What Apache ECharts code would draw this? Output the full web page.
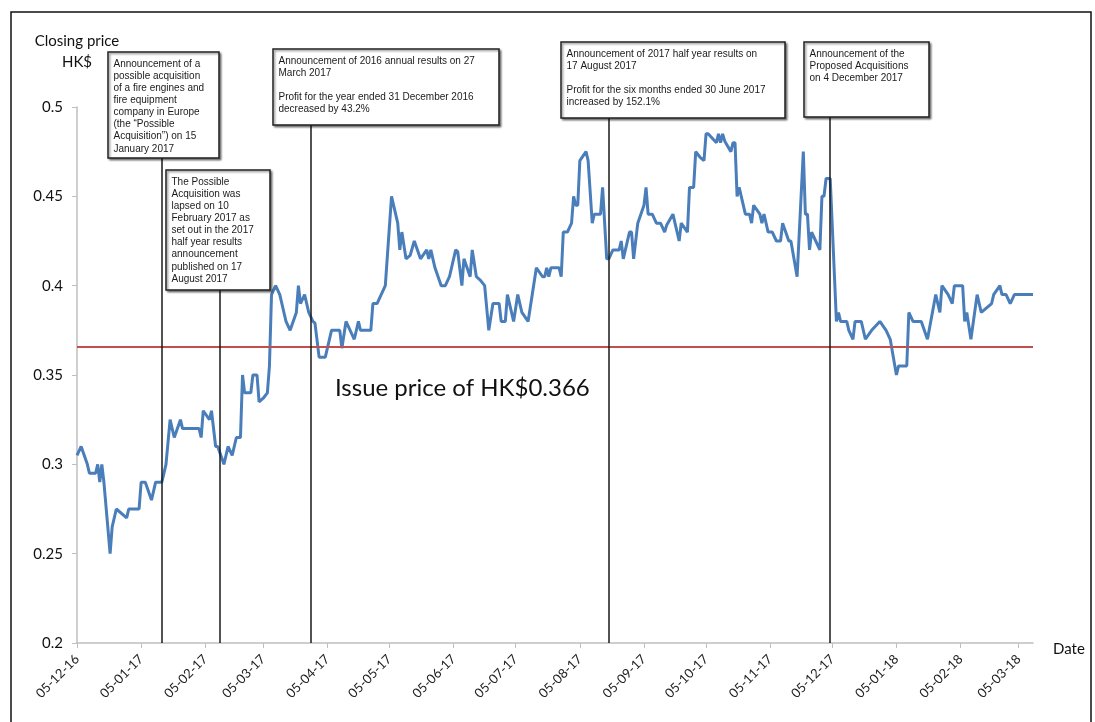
<!DOCTYPE html>
<html>
<head>
<meta charset="utf-8">
<title>Closing price</title>
<script src="https://cdn.jsdelivr.net/npm/echarts@6/dist/echarts.min.js"></script>
<style>
  html, body { margin: 0; padding: 0; background: #fff; }
  #chart { width: 1095px; height: 722px; }
</style>
</head>
<body>
<div id="chart"></div>
<script>
// closing price readings (HK$)
const dates = [
  '2016-12-05','2016-12-07','2016-12-10','2016-12-11','2016-12-14','2016-12-15','2016-12-16','2016-12-17','2016-12-18','2016-12-21',
  '2016-12-22','2016-12-24','2016-12-29','2016-12-30','2017-01-04','2017-01-05','2017-01-07','2017-01-10','2017-01-12','2017-01-15',
  '2017-01-17','2017-01-19','2017-01-21','2017-01-24','2017-01-25','2017-02-02','2017-02-03','2017-02-04','2017-02-07','2017-02-08',
  '2017-02-10','2017-02-11','2017-02-14','2017-02-16','2017-02-18','2017-02-20','2017-02-22','2017-02-23','2017-02-24','2017-02-27',
  '2017-02-28','2017-03-02','2017-03-03','2017-03-05','2017-03-07','2017-03-08','2017-03-09','2017-03-11','2017-03-13','2017-03-15',
  '2017-03-16','2017-03-18','2017-03-21','2017-03-22','2017-03-23','2017-03-25','2017-03-27','2017-03-29','2017-03-30','2017-04-01',
  '2017-04-04','2017-04-07','2017-04-11','2017-04-12','2017-04-14','2017-04-18','2017-04-20','2017-04-21','2017-04-26','2017-04-27',
  '2017-04-29','2017-05-03','2017-05-06','2017-05-09','2017-05-10','2017-05-11','2017-05-13','2017-05-15','2017-05-17','2017-05-20',
  '2017-05-23','2017-05-24','2017-05-25','2017-05-27','2017-05-30','2017-06-01','2017-06-03','2017-06-06','2017-06-07','2017-06-09',
  '2017-06-10','2017-06-13','2017-06-14','2017-06-16','2017-06-18','2017-06-20','2017-06-22','2017-06-24','2017-06-27','2017-06-28',
  '2017-06-30','2017-07-01','2017-07-04','2017-07-06','2017-07-08','2017-07-11','2017-07-13','2017-07-15','2017-07-18','2017-07-19',
  '2017-07-20','2017-07-21','2017-07-22','2017-07-26','2017-07-27','2017-07-28','2017-07-30','2017-08-01','2017-08-02','2017-08-03',
  '2017-08-04','2017-08-05','2017-08-08','2017-08-09','2017-08-11','2017-08-12','2017-08-15','2017-08-16','2017-08-18','2017-08-19',
  '2017-08-21','2017-08-24','2017-08-25','2017-08-26','2017-08-29','2017-08-30','2017-08-31','2017-09-02','2017-09-05','2017-09-06',
  '2017-09-07','2017-09-09','2017-09-11','2017-09-13','2017-09-15','2017-09-16','2017-09-19','2017-09-20','2017-09-22','2017-09-23',
  '2017-09-26','2017-09-27','2017-09-29','2017-09-30','2017-10-02','2017-10-04','2017-10-05','2017-10-06','2017-10-10','2017-10-11',
  '2017-10-12','2017-10-13','2017-10-14','2017-10-17','2017-10-18','2017-10-19','2017-10-20','2017-10-21','2017-10-24','2017-10-26',
  '2017-10-27','2017-10-28','2017-10-31','2017-11-01','2017-11-02','2017-11-04','2017-11-06','2017-11-08','2017-11-10','2017-11-11',
  '2017-11-14','2017-11-15','2017-11-18','2017-11-21','2017-11-22','2017-11-23','2017-11-24','2017-11-25','2017-11-27','2017-11-29',
  '2017-11-30','2017-12-01','2017-12-02','2017-12-04','2017-12-07','2017-12-08','2017-12-09','2017-12-12','2017-12-13','2017-12-15',
  '2017-12-16','2017-12-19','2017-12-21','2017-12-24','2017-12-28','2017-12-31','2018-01-02','2018-01-05','2018-01-06','2018-01-10',
  '2018-01-11','2018-01-13','2018-01-17','2018-01-20','2018-01-24','2018-01-26','2018-01-27','2018-01-30','2018-02-01','2018-02-02',
  '2018-02-06','2018-02-07','2018-02-08','2018-02-10','2018-02-13','2018-02-15','2018-02-20','2018-02-21','2018-02-24','2018-02-25',
  '2018-02-27','2018-03-01','2018-03-03','2018-03-12'
];
const prices = [
  0.305,0.31,0.30,0.295,0.295,0.30,0.29,0.30,0.29,0.25,
  0.265,0.275,0.27,0.275,0.275,0.29,0.29,0.28,0.29,0.29,
  0.30,0.325,0.315,0.325,0.32,0.32,0.315,0.33,0.325,0.33,
  0.31,0.31,0.30,0.31,0.305,0.315,0.315,0.35,0.34,0.34,
  0.35,0.35,0.335,0.337,0.34,0.355,0.395,0.40,0.395,0.385,
  0.38,0.375,0.385,0.40,0.39,0.395,0.385,0.38,0.379,0.36,
  0.36,0.375,0.375,0.365,0.38,0.37,0.38,0.375,0.375,0.39,
  0.39,0.40,0.45,0.435,0.42,0.43,0.415,0.417,0.425,0.415,
  0.42,0.415,0.42,0.41,0.40,0.40,0.405,0.42,0.419,0.40,
  0.415,0.405,0.42,0.405,0.403,0.40,0.375,0.39,0.39,0.38,
  0.38,0.395,0.38,0.395,0.385,0.38,0.395,0.41,0.405,0.405,
  0.41,0.405,0.41,0.41,0.405,0.43,0.43,0.435,0.45,0.445,
  0.445,0.47,0.475,0.47,0.435,0.44,0.44,0.455,0.415,0.415,
  0.42,0.42,0.425,0.415,0.43,0.43,0.415,0.435,0.445,0.455,
  0.44,0.44,0.435,0.435,0.43,0.434,0.44,0.435,0.425,0.435,
  0.43,0.455,0.455,0.475,0.472,0.47,0.485,0.485,0.48,0.485,
  0.48,0.485,0.481,0.475,0.48,0.48,0.45,0.455,0.44,0.44,
  0.435,0.445,0.44,0.435,0.44,0.43,0.43,0.425,0.425,0.435,
  0.425,0.425,0.405,0.475,0.44,0.44,0.42,0.43,0.425,0.42,
  0.45,0.45,0.46,0.46,0.38,0.385,0.38,0.38,0.375,0.37,
  0.38,0.38,0.37,0.375,0.38,0.375,0.37,0.35,0.355,0.355,
  0.385,0.38,0.38,0.37,0.395,0.385,0.40,0.395,0.39,0.40,
  0.40,0.38,0.385,0.37,0.395,0.385,0.39,0.395,0.40,0.395,
  0.395,0.39,0.395,0.395
];
const tickLabels = [
  '05-12-16','05-01-17','05-02-17','05-03-17','05-04-17','05-05-17','05-06-17','05-07-17',
  '05-08-17','05-09-17','05-10-17','05-11-17','05-12-17','05-01-18','05-02-18','05-03-18'
];
const issuePrice = 0.366;
// announcement connector lines: date on the axis and value where the box ends
const eventDates = ['2017-01-15','2017-02-12','2017-03-28','2017-08-19','2017-12-04'];
const eventTops = [0.4714, 0.3976, 0.4899, 0.4938, 0.4944];

const boxes = [
  {x:108, y:52, w:111, h:106, text:'Announcement of a\npossible acquisition\nof a fire engines and\nfire equipment\ncompany in Europe\n(the “Possible\nAcquisition”) on 15\nJanuary 2017'},
  {x:166, y:170, w:104, h:120, text:'The Possible\nAcquisition was\nlapsed on 10\nFebruary 2017 as\nset out in the 2017\nhalf year results\nannouncement\npublished on 17\nAugust 2017'},
  {x:273, y:49, w:226, h:76, text:'Announcement of 2016 annual results on 27\nMarch 2017\n\nProfit for the year ended 31 December 2016\ndecreased by 43.2%'},
  {x:561, y:42, w:224, h:76, text:'Announcement of 2017 half year results on\n17 August 2017\n\nProfit for the six months ended 30 June 2017\nincreased by 152.1%'},
  {x:804, y:42, w:125, h:75, text:'Announcement of the\nProposed Acquisitions\non 4 December 2017'}
];

function labelTime(s) {
  let p = s.split('-');
  return new Date(2000 + (+p[2]), +p[1] - 1, +p[0]).getTime();
}
function dayTime(s) {
  let p = s.split('-');
  return new Date(+p[0], +p[1] - 1, +p[2]).getTime();
}

function init() {
  let myChart = echarts.init(document.getElementById('chart'));
  let tickValues = tickLabels.map(labelTime);
  let font = 'Lato, "Open Sans", sans-serif';

  let lines = [{
    yAxis: issuePrice,
    lineStyle: {color: '#c0504d', width: 2, type: 'solid'}
  }];
  eventDates.forEach((d, i) => {
    lines.push([
      {coord: [dayTime(d), eventTops[i]], lineStyle: {color: '#1a1a1a', width: 1.5, type: 'solid'}},
      {coord: [dayTime(d), 0.2]}
    ]);
  });

  let graphic = [{
    type: 'rect',
    shape: {x: 11, y: 12, width: 1080, height: 740},
    style: {fill: 'none', stroke: '#111', lineWidth: 1.5},
    silent: true
  }, {
    type: 'text',
    x: 335, y: 388,
    style: {text: 'Issue price of HK$0.366', font: '24px ' + font, fill: '#111', verticalAlign: 'middle'}
  }];
  boxes.forEach(b => {
    graphic.push({
      type: 'rect',
      shape: {x: b.x, y: b.y, width: b.w, height: b.h},
      style: {fill: '#fff', stroke: '#222', lineWidth: 1.5,
        shadowBlur: 2, shadowOffsetX: 1.5, shadowOffsetY: 1.5, shadowColor: 'rgba(0,0,0,0.45)'},
      z: 10
    });
    graphic.push({
      type: 'text',
      x: b.x + 5.5, y: b.y + 6,
      style: {text: b.text, font: '10px "Liberation Sans", Arial, sans-serif', fill: '#1a1a1a', lineHeight: 12.1},
      z: 11
    });
  });

  let option = {
    animation: false,
    backgroundColor: '#fff',
    grid: {left: 77, right: 62, top: 107, bottom: 79, outerBoundsMode: 'none'},
    xAxis: {
      type: 'value',
      min: labelTime('05-12-16'),
      max: dayTime('2018-03-12'),
      name: 'Date',
      nameLocation: 'end',
      nameGap: 20,
      nameTextStyle: {fontFamily: font, fontSize: 15, color: '#111', verticalAlign: 'top', lineHeight: 12},
      axisLine: {lineStyle: {color: '#bfbfbf', width: 1.5}},
      axisTick: {show: true, customValues: tickValues, length: 5, lineStyle: {color: '#bfbfbf'}},
      axisLabel: {
        customValues: tickValues,
        rotate: 45,
        margin: 14,
        fontFamily: font,
        fontSize: 13,
        color: '#222',
        formatter: v => tickLabels[tickValues.indexOf(v)] || ''
      },
      splitLine: {show: false}
    },
    yAxis: {
      type: 'value',
      min: 0.2,
      max: 0.5,
      interval: 0.05,
      name: 'Closing price\nHK$',
      nameLocation: 'end',
      nameGap: 34,
      nameTextStyle: {fontFamily: font, fontSize: 15, color: '#111', align: 'center', lineHeight: 21},
      axisLine: {show: true, lineStyle: {color: '#bfbfbf', width: 1.5}},
      axisTick: {show: true, length: 5, lineStyle: {color: '#bfbfbf'}},
      axisLabel: {fontFamily: font, fontSize: 15, color: '#111', margin: 14},
      splitLine: {show: false}
    },
    series: [{
      type: 'line',
      data: dates.map((d, i) => [dayTime(d), prices[i]]),
      showSymbol: false,
      lineStyle: {color: '#4a7ebb', width: 3},
      itemStyle: {color: '#4a7ebb'},
      markLine: {
        silent: true,
        symbol: 'none',
        precision: 3,
        label: {show: false},
        data: lines
      }
    }],
    graphic: graphic
  };
  myChart.setOption(option);
}

init();
</script>
</body>
</html>
